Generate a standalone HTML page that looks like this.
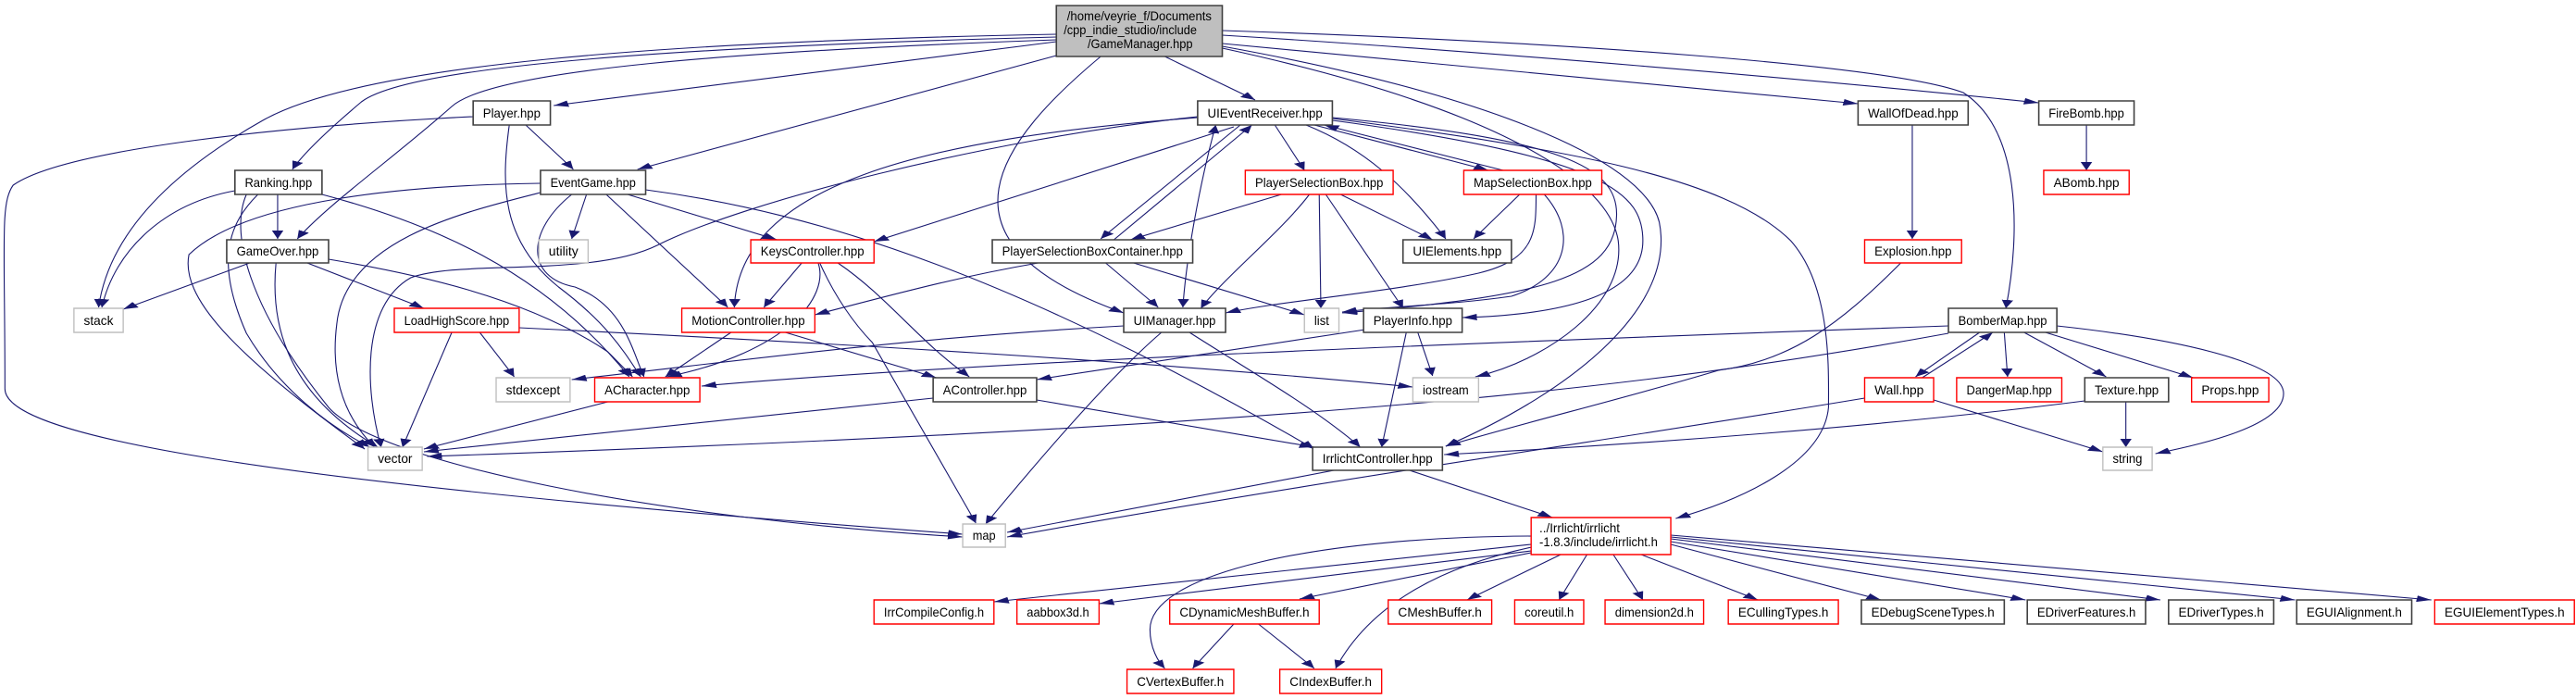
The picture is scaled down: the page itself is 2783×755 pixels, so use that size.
<!DOCTYPE html>
<html><head><meta charset="utf-8"><style>
html,body{margin:0;padding:0;background:#fff;}
svg{display:block;}
text{font-family:"Liberation Sans",sans-serif;font-size:13.5px;fill:#000;}
.e{fill:none;stroke:#191970;stroke-width:1.1;vector-effect:non-scaling-stroke;}
.b{fill:#fff;stroke:#404040;stroke-width:1.6;vector-effect:non-scaling-stroke;}
.r{fill:#fff;stroke:#ff0000;stroke-width:1.4;vector-effect:non-scaling-stroke;}
.g{fill:#fff;stroke:#bfbfbf;stroke-width:1.4;vector-effect:non-scaling-stroke;}
</style></head><body>
<svg width="2783" height="755" viewBox="0 0 1568 755" preserveAspectRatio="none" xmlns="http://www.w3.org/2000/svg">
<defs>
<marker id="a" markerUnits="userSpaceOnUse" markerWidth="9" markerHeight="7" refX="9" refY="3.5" orient="auto"><path d="M0,0 L9,3.5 L0,7 z" fill="#191970"/></marker>
<marker id="s" markerUnits="userSpaceOnUse" markerWidth="9" markerHeight="7" refX="0" refY="3.5" orient="auto"><path d="M9,0 L0,3.5 L9,7 z" fill="#191970"/></marker>
</defs>
<g marker-end="url(#a)">
<path class="e" d="M643,45 L337,114"/>
<path class="e" d="M643,40 C420,50 250,70 220,110 C200,140 185,165 178,183"/>
<path class="e" d="M643,43 C450,55 300,75 275,115 C240,170 200,220 181,258"/>
<path class="e" d="M643,37 C400,45 220,70 160,130 C90,200 65,270 60,332"/>
<path class="e" d="M643,60 L388,183"/>
<path class="e" d="M709,61 L764,108"/>
<path class="e" d="M670,61 C610,150 560,260 684,338"/>
<path class="e" d="M744,47 L1131,112"/>
<path class="e" d="M744,38 C900,55 1100,85 1241,111"/>
<path class="e" d="M744,33 C950,45 1150,70 1195,100 C1230,140 1230,250 1221,333"/>
<path class="e" d="M744,50 C900,100 1000,170 1010,240 C1020,330 960,420 880,482"/>
<path class="e" d="M744,52 C920,120 980,200 985,260 C990,330 940,390 898,407"/>
<path class="e" d="M320,135 L349,183"/>
<path class="e" d="M288,126 C180,135 40,160 8,200 C0,220 3,260 3,420 C3,470 150,520 586,577"/>
<path class="e" d="M310,135 C305,200 305,260 340,310 C370,350 380,380 390,407"/>
<path class="e" d="M169,210 L169,258"/>
<path class="e" d="M143,206 C100,220 70,270 62,332"/>
<path class="e" d="M157,210 C140,240 130,280 150,360 C170,420 200,460 225,483"/>
<path class="e" d="M196,210 C260,240 330,290 383,407"/>
<path class="e" d="M150,210 C140,250 150,330 200,440 C230,500 400,560 586,580"/>
<path class="e" d="M357,210 L348,258"/>
<path class="e" d="M382,210 L473,259"/>
<path class="e" d="M369,210 L443,332"/>
<path class="e" d="M348,210 C320,250 320,300 350,310 C380,330 385,380 392,407"/>
<path class="e" d="M329,208 C280,230 210,260 205,350 C200,420 215,460 228,483"/>
<path class="e" d="M329,198 C250,200 150,215 115,275 C110,320 140,380 222,485"/>
<path class="e" d="M393,205 C500,230 620,300 800,485"/>
<path class="e" d="M152,284 L75,334"/>
<path class="e" d="M187,284 L258,333"/>
<path class="e" d="M168,284 C165,340 170,420 230,483"/>
<path class="e" d="M200,280 C250,295 320,320 370,380 L385,407"/>
<path class="e" d="M488,284 L465,332"/>
<path class="e" d="M499,284 C508,320 520,350 531,370 L594,565"/>
<path class="e" d="M498,284 C505,320 480,380 406,407"/>
<path class="e" d="M510,284 C540,320 560,370 590,407"/>
<path class="e" d="M292,359 L313,407"/>
<path class="e" d="M275,359 L245,483"/>
<path class="e" d="M316,354 C500,370 700,390 860,418"/>
<path class="e" d="M445,359 L405,407"/>
<path class="e" d="M478,359 L570,408"/>
<path class="e" d="M776,135 L794,184"/>
<path class="e" d="M795,135 C830,160 855,200 880,258"/>
<path class="e" d="M751,137 L532,261"/>
<path class="e" d="M729,127 C560,150 450,200 447,332"/>
<path class="e" d="M729,126 C600,150 450,220 400,265 C360,300 280,280 250,300 C220,330 222,420 232,483"/>
<path class="e" d="M811,128 C950,160 1050,190 1090,260 C1115,310 1113,400 1113,440 C1110,500 1060,540 1020,560"/>
<path class="e" d="M811,127 C950,150 985,180 984,233 C983,300 940,320 817,338"/>
<path class="e" d="M811,130 C980,170 1000,210 1000,260 C1000,320 950,340 890,343"/>
<path class="e" d="M684,352 C550,365 450,390 348,410"/>
<path class="e" d="M740,135 C730,200 722,280 720,332" marker-start="url(#s)"/>
<path class="e" d="M755,135 L670,258"/>
<path class="e" d="M678,259 L762,135"/>
<path class="e" d="M800,135 L906,184"/>
<path class="e" d="M915,184 L806,135"/>
<path class="e" d="M780,210 L688,259"/>
<path class="e" d="M797,210 C780,250 745,300 731,333"/>
<path class="e" d="M803,210 L804,333"/>
<path class="e" d="M807,210 L854,333"/>
<path class="e" d="M816,210 L872,259"/>
<path class="e" d="M925,210 L897,258"/>
<path class="e" d="M935,210 C935,250 935,280 900,295 C850,315 780,325 746,338"/>
<path class="e" d="M940,210 C960,250 955,300 920,320 C880,330 850,330 817,337"/>
<path class="e" d="M673,284 L705,332"/>
<path class="e" d="M690,284 L794,340"/>
<path class="e" d="M632,284 C580,300 540,320 496,340"/>
<path class="e" d="M707,359 C680,400 640,480 600,566"/>
<path class="e" d="M724,359 C760,400 800,440 828,483"/>
<path class="e" d="M831,356 L631,410"/>
<path class="e" d="M863,359 L872,406"/>
<path class="e" d="M856,359 L841,483"/>
<path class="e" d="M631,432 L800,483"/>
<path class="e" d="M568,430 L258,488"/>
<path class="e" d="M370,434 L258,485"/>
<path class="e" d="M812,508 L613,575"/>
<path class="e" d="M858,508 L945,559"/>
<path class="e" d="M1157,284 C1120,350 1090,390 1046,400 C990,430 920,460 880,482"/>
<path class="e" d="M1164,135 L1164,258"/>
<path class="e" d="M1270,135 L1270,184"/>
<path class="e" d="M1205,359 L1166,407"/>
<path class="e" d="M1170,408 L1213,359"/>
<path class="e" d="M1220,359 L1222,407"/>
<path class="e" d="M1232,359 L1282,407"/>
<path class="e" d="M1245,359 L1335,408"/>
<path class="e" d="M1252,352 C1320,365 1390,390 1390,425 C1390,460 1340,480 1312,490"/>
<path class="e" d="M1186,352 C900,370 600,390 427,417"/>
<path class="e" d="M1186,360 C1000,420 800,460 260,493"/>
<path class="e" d="M1135,430 C1000,470 800,520 613,580"/>
<path class="e" d="M1269,433 C1150,460 1000,480 879,491"/>
<path class="e" d="M1177,432 L1280,488"/>
<path class="e" d="M1294,434 L1294,483"/>
<path class="e" d="M932,588 L605,650"/>
<path class="e" d="M932,595 L669,652"/>
<path class="e" d="M932,597 L791,647"/>
<path class="e" d="M932,579 C800,580 700,620 700,680 C700,700 705,715 709,722"/>
<path class="e" d="M935,590 C880,610 835,650 813,722"/>
<path class="e" d="M950,599 L893,648"/>
<path class="e" d="M966,599 L949,648"/>
<path class="e" d="M982,599 L1000,648"/>
<path class="e" d="M999,599 L1070,648"/>
<path class="e" d="M1017,588 L1145,648"/>
<path class="e" d="M1017,585 L1233,648"/>
<path class="e" d="M1017,582 L1315,648"/>
<path class="e" d="M1017,580 L1397,648"/>
<path class="e" d="M1017,578 L1480,648"/>
<path class="e" d="M751,674 L726,722"/>
<path class="e" d="M766,674 L800,722"/>
</g>

<rect x="643" y="6" width="101" height="55" fill="#bfbfbf" stroke="#404040" stroke-width="1.6" vector-effect="non-scaling-stroke"/>
<text x="693.5" y="22" text-anchor="middle" textLength="88" lengthAdjust="spacingAndGlyphs">/home/veyrie_f/Documents</text>
<text x="688" y="37" text-anchor="middle" textLength="81" lengthAdjust="spacingAndGlyphs">/cpp_indie_studio/include</text>
<text x="694" y="52" text-anchor="middle" textLength="64" lengthAdjust="spacingAndGlyphs">/GameManager.hpp</text>

<g text-anchor="middle">
<rect class="b" x="288" y="109" width="47" height="26"/><text x="311.5" y="127" textLength="35" lengthAdjust="spacingAndGlyphs">Player.hpp</text>
<rect class="b" x="729" y="109" width="82" height="26"/><text x="770" y="127" textLength="70" lengthAdjust="spacingAndGlyphs">UIEventReceiver.hpp</text>
<rect class="b" x="1131" y="109" width="67" height="26"/><text x="1164.5" y="127" textLength="55" lengthAdjust="spacingAndGlyphs">WallOfDead.hpp</text>
<rect class="b" x="1241" y="109" width="58" height="26"/><text x="1270" y="127" textLength="46" lengthAdjust="spacingAndGlyphs">FireBomb.hpp</text>
<rect class="b" x="143" y="184" width="53" height="26"/><text x="169.5" y="202" textLength="41" lengthAdjust="spacingAndGlyphs">Ranking.hpp</text>
<rect class="b" x="329" y="184" width="64" height="26"/><text x="361" y="202" textLength="52" lengthAdjust="spacingAndGlyphs">EventGame.hpp</text>
<rect class="r" x="758" y="184" width="90" height="26"/><text x="803" y="202" textLength="78" lengthAdjust="spacingAndGlyphs">PlayerSelectionBox.hpp</text>
<rect class="r" x="891" y="184" width="84" height="26"/><text x="933" y="202" textLength="72" lengthAdjust="spacingAndGlyphs">MapSelectionBox.hpp</text>
<rect class="r" x="1244" y="184" width="52" height="26"/><text x="1270" y="202" textLength="40" lengthAdjust="spacingAndGlyphs">ABomb.hpp</text>
<rect class="b" x="138" y="259" width="62" height="25"/><text x="169" y="276" textLength="50" lengthAdjust="spacingAndGlyphs">GameOver.hpp</text>
<rect class="g" x="328" y="259" width="30" height="25"/><text x="343" y="276" textLength="18" lengthAdjust="spacingAndGlyphs">utility</text>
<rect class="r" x="457" y="259" width="75" height="25"/><text x="494.5" y="276" textLength="63" lengthAdjust="spacingAndGlyphs">KeysController.hpp</text>
<rect class="b" x="604" y="259" width="122" height="25"/><text x="665" y="276" textLength="110" lengthAdjust="spacingAndGlyphs">PlayerSelectionBoxContainer.hpp</text>
<rect class="b" x="854" y="259" width="66" height="25"/><text x="887" y="276" textLength="54" lengthAdjust="spacingAndGlyphs">UIElements.hpp</text>
<rect class="r" x="1135" y="259" width="59" height="25"/><text x="1164.5" y="276" textLength="47" lengthAdjust="spacingAndGlyphs">Explosion.hpp</text>
<rect class="g" x="45" y="333" width="30" height="26"/><text x="60" y="351" textLength="18" lengthAdjust="spacingAndGlyphs">stack</text>
<rect class="r" x="240" y="333" width="76" height="26"/><text x="278" y="351" textLength="64" lengthAdjust="spacingAndGlyphs">LoadHighScore.hpp</text>
<rect class="r" x="415" y="333" width="81" height="26"/><text x="455.5" y="351" textLength="69" lengthAdjust="spacingAndGlyphs">MotionController.hpp</text>
<rect class="b" x="684" y="333" width="62" height="26"/><text x="715" y="351" textLength="50" lengthAdjust="spacingAndGlyphs">UIManager.hpp</text>
<rect class="g" x="794" y="333" width="21" height="26"/><text x="804.5" y="351" textLength="9" lengthAdjust="spacingAndGlyphs">list</text>
<rect class="b" x="830" y="333" width="60" height="26"/><text x="860" y="351" textLength="48" lengthAdjust="spacingAndGlyphs">PlayerInfo.hpp</text>
<rect class="b" x="1186" y="333" width="66" height="26"/><text x="1219" y="351" textLength="54" lengthAdjust="spacingAndGlyphs">BomberMap.hpp</text>
<rect class="g" x="302" y="408" width="45" height="26"/><text x="324.5" y="426" textLength="33" lengthAdjust="spacingAndGlyphs">stdexcept</text>
<rect class="r" x="362" y="408" width="64" height="26"/><text x="394" y="426" textLength="52" lengthAdjust="spacingAndGlyphs">ACharacter.hpp</text>
<rect class="b" x="568" y="408" width="63" height="26"/><text x="599.5" y="426" textLength="51" lengthAdjust="spacingAndGlyphs">AController.hpp</text>
<rect class="g" x="860" y="408" width="40" height="26"/><text x="880" y="426" textLength="28" lengthAdjust="spacingAndGlyphs">iostream</text>
<rect class="r" x="1135" y="408" width="42" height="26"/><text x="1156" y="426" textLength="30" lengthAdjust="spacingAndGlyphs">Wall.hpp</text>
<rect class="r" x="1191" y="408" width="64" height="26"/><text x="1223" y="426" textLength="52" lengthAdjust="spacingAndGlyphs">DangerMap.hpp</text>
<rect class="b" x="1269" y="408" width="51" height="26"/><text x="1294.5" y="426" textLength="39" lengthAdjust="spacingAndGlyphs">Texture.hpp</text>
<rect class="r" x="1334" y="408" width="47" height="26"/><text x="1357.5" y="426" textLength="35" lengthAdjust="spacingAndGlyphs">Props.hpp</text>
<rect class="g" x="224" y="483" width="33" height="25"/><text x="240.5" y="500" textLength="21" lengthAdjust="spacingAndGlyphs">vector</text>
<rect class="b" x="799" y="483" width="79" height="25"/><text x="838.5" y="500" textLength="67" lengthAdjust="spacingAndGlyphs">IrrlichtController.hpp</text>
<rect class="g" x="1280" y="483" width="30" height="25"/><text x="1295" y="500" textLength="18" lengthAdjust="spacingAndGlyphs">string</text>
<rect class="g" x="586" y="566" width="26" height="25"/><text x="599" y="583" textLength="14" lengthAdjust="spacingAndGlyphs">map</text>
<rect class="r" x="932" y="559" width="85" height="40"/>
<rect class="r" x="532" y="648" width="73" height="26"/><text x="568.5" y="666" textLength="61" lengthAdjust="spacingAndGlyphs">IrrCompileConfig.h</text>
<rect class="r" x="619" y="648" width="50" height="26"/><text x="644" y="666" textLength="38" lengthAdjust="spacingAndGlyphs">aabbox3d.h</text>
<rect class="r" x="712" y="648" width="91" height="26"/><text x="757.5" y="666" textLength="79" lengthAdjust="spacingAndGlyphs">CDynamicMeshBuffer.h</text>
<rect class="r" x="845" y="648" width="63" height="26"/><text x="876.5" y="666" textLength="51" lengthAdjust="spacingAndGlyphs">CMeshBuffer.h</text>
<rect class="r" x="922" y="648" width="42" height="26"/><text x="943" y="666" textLength="30" lengthAdjust="spacingAndGlyphs">coreutil.h</text>
<rect class="r" x="977" y="648" width="60" height="26"/><text x="1007" y="666" textLength="48" lengthAdjust="spacingAndGlyphs">dimension2d.h</text>
<rect class="r" x="1052" y="648" width="67" height="26"/><text x="1085.5" y="666" textLength="55" lengthAdjust="spacingAndGlyphs">ECullingTypes.h</text>
<rect class="b" x="1133" y="648" width="87" height="26"/><text x="1176.5" y="666" textLength="75" lengthAdjust="spacingAndGlyphs">EDebugSceneTypes.h</text>
<rect class="b" x="1234" y="648" width="72" height="26"/><text x="1270" y="666" textLength="60" lengthAdjust="spacingAndGlyphs">EDriverFeatures.h</text>
<rect class="b" x="1320" y="648" width="64" height="26"/><text x="1352" y="666" textLength="52" lengthAdjust="spacingAndGlyphs">EDriverTypes.h</text>
<rect class="b" x="1398" y="648" width="70" height="26"/><text x="1433" y="666" textLength="58" lengthAdjust="spacingAndGlyphs">EGUIAlignment.h</text>
<rect class="r" x="1482" y="648" width="85" height="26"/><text x="1524.5" y="666" textLength="73" lengthAdjust="spacingAndGlyphs">EGUIElementTypes.h</text>
<rect class="r" x="686" y="723" width="65" height="26"/><text x="718.5" y="741" textLength="53" lengthAdjust="spacingAndGlyphs">CVertexBuffer.h</text>
<rect class="r" x="779" y="723" width="62" height="26"/><text x="810" y="741" textLength="50" lengthAdjust="spacingAndGlyphs">CIndexBuffer.h</text>
</g>
<text x="937" y="575" textLength="49" lengthAdjust="spacingAndGlyphs">../Irrlicht/irrlicht</text>
<text x="937" y="590" textLength="72" lengthAdjust="spacingAndGlyphs">-1.8.3/include/irrlicht.h</text>
</svg>
</body></html>
